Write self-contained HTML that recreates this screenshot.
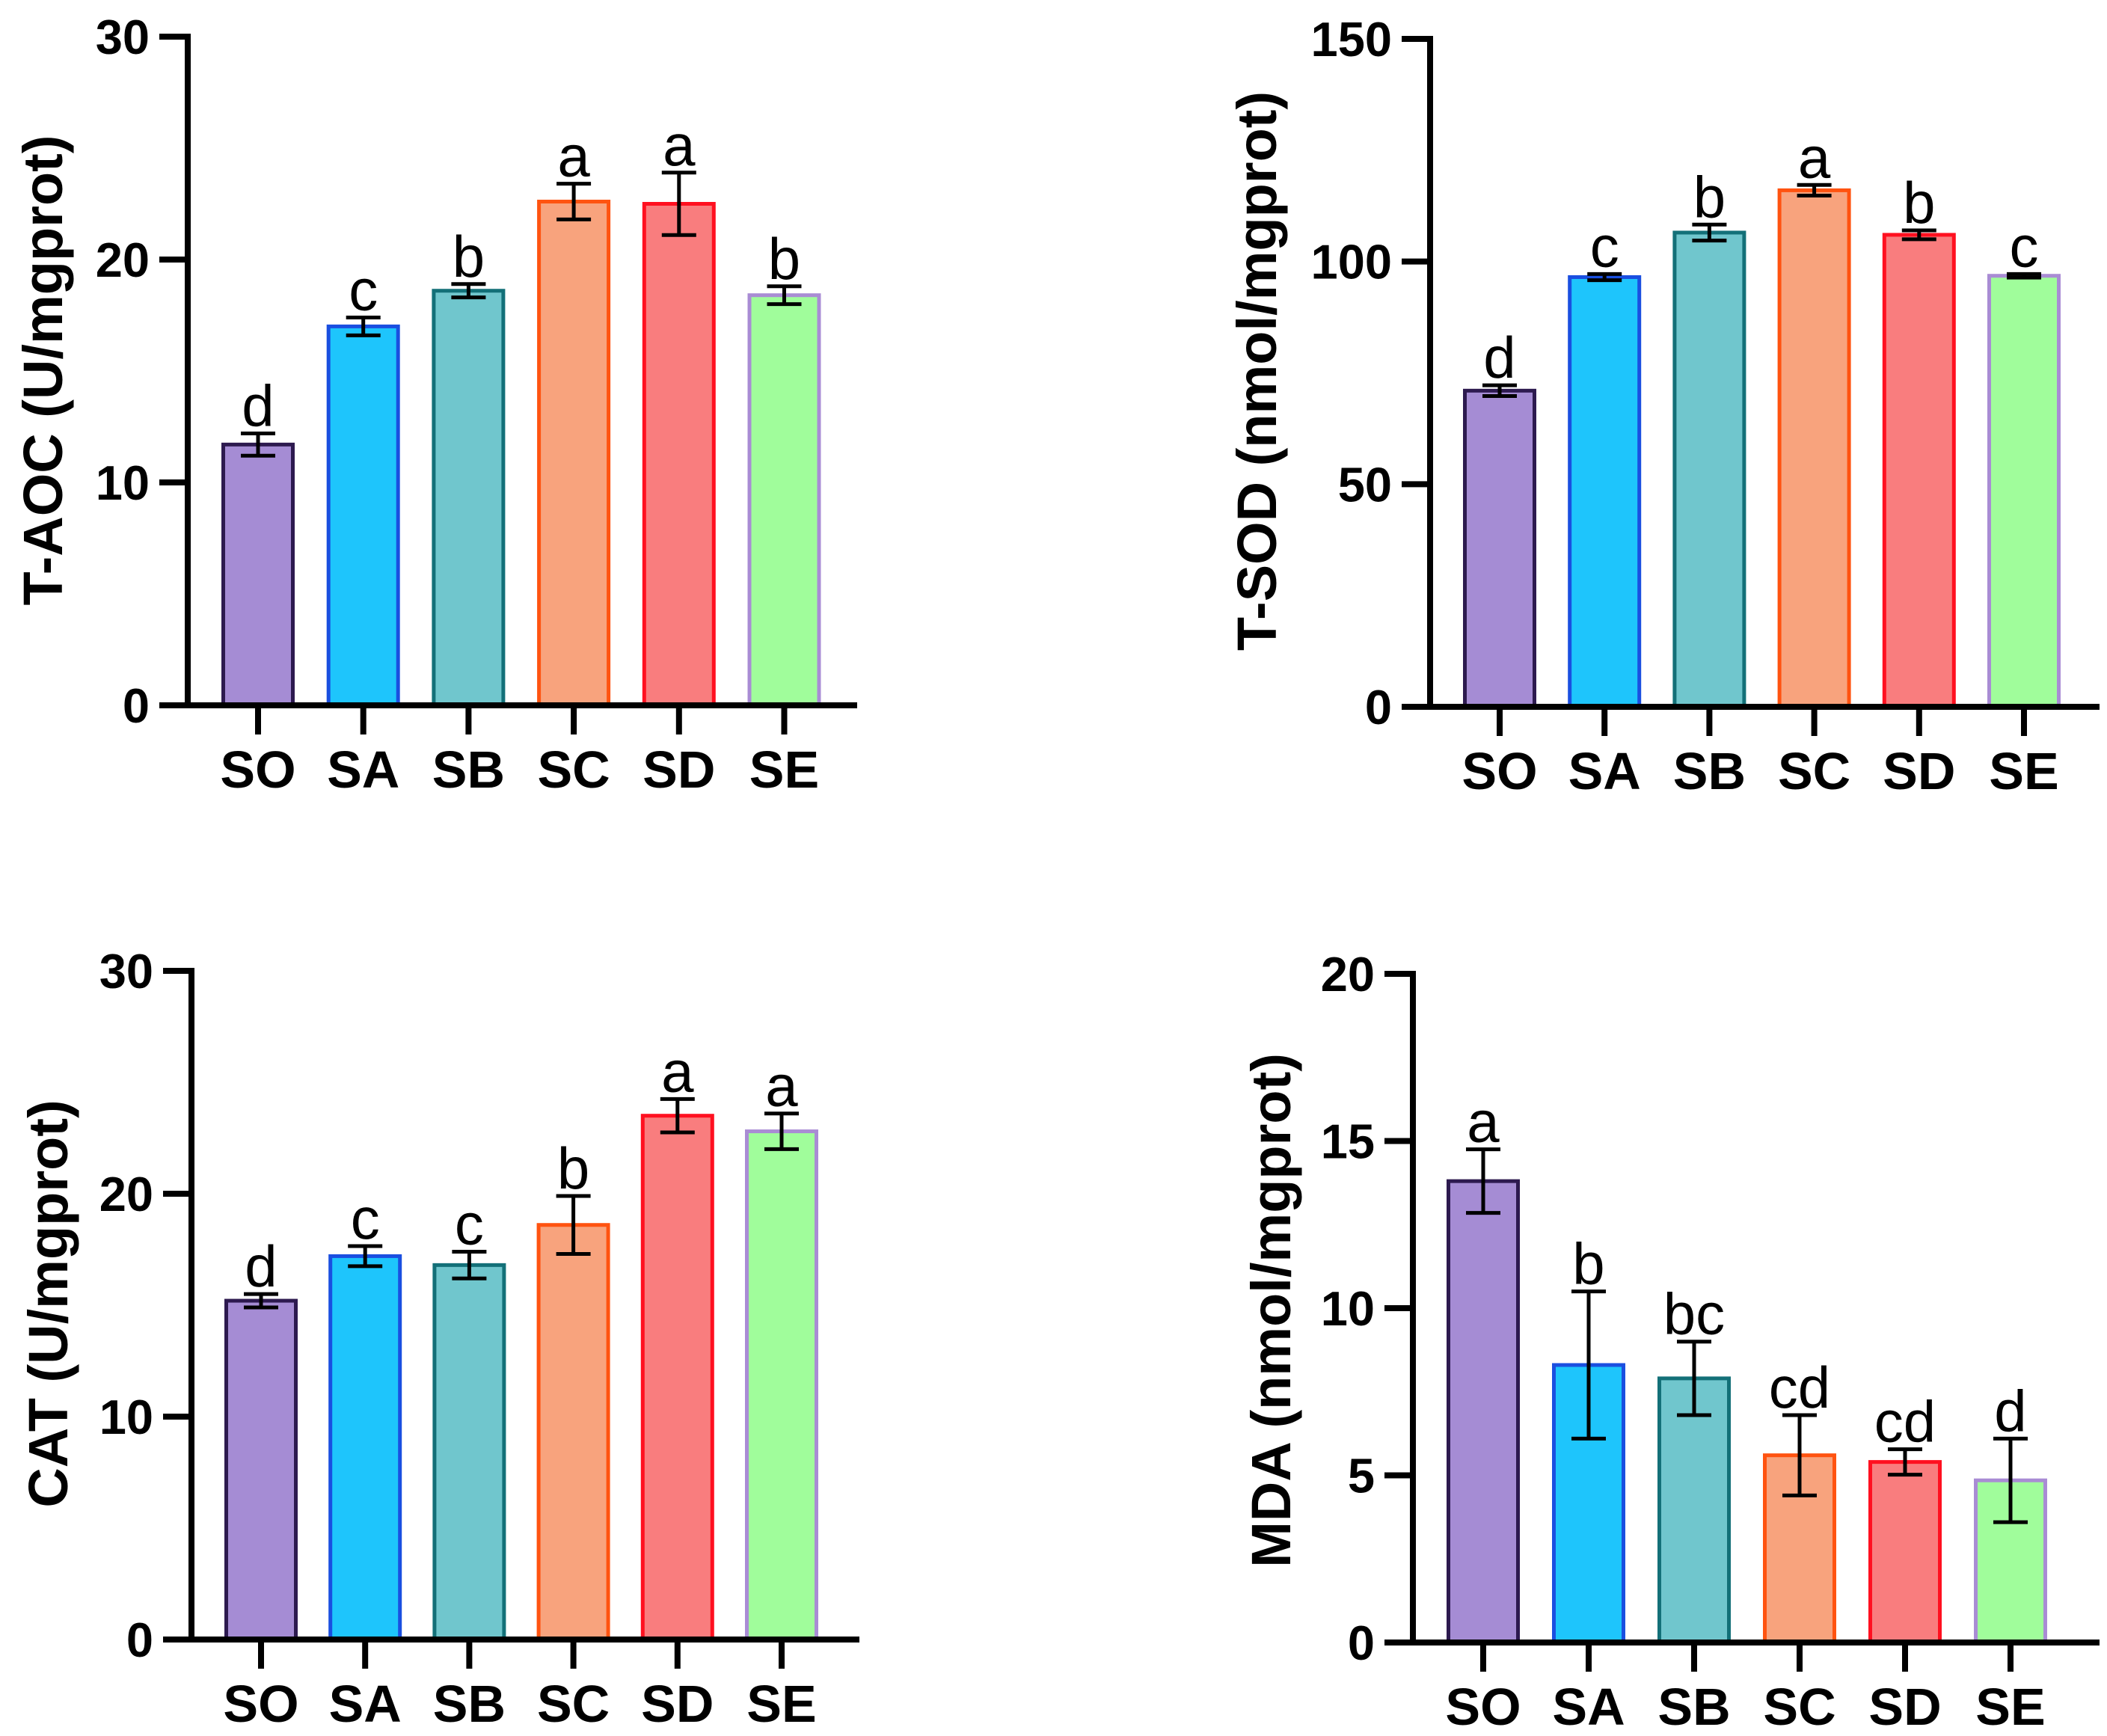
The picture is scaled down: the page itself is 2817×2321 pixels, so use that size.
<!DOCTYPE html>
<html><head><meta charset="utf-8">
<style>
html,body{margin:0;padding:0;background:#fff;}
svg{display:block;}
text{font-family:"Liberation Sans",Arial,sans-serif;}
</style></head>
<body>
<svg id="fig" width="2817" height="2321" viewBox="0 0 2817 2321" xmlns="http://www.w3.org/2000/svg">
<rect width="2817" height="2321" fill="#fff"/>
</svg>
<script>
const categories = ["SO","SA","SB","SC","SD","SE"];
const taocValues = [11.7, 17.0, 18.6, 22.6, 22.5, 18.4];
const taocErrors = [0.5, 0.4, 0.3, 0.8, 1.4, 0.4];
const taocLetters = ["d","c","b","a","a","b"];
const taocTicks = [0, 10, 20, 30];
const tsodValues = [71.0, 96.5, 106.5, 116.0, 106.0, 96.8];
const tsodErrors = [1.2, 0.7, 1.8, 1.2, 1.0, 0.4];
const tsodLetters = ["d","c","b","a","b","c"];
const tsodTicks = [0, 50, 100, 150];
const catValues = [15.2, 17.2, 16.8, 18.6, 23.5, 22.8];
const catErrors = [0.3, 0.45, 0.6, 1.3, 0.75, 0.8];
const catLetters = ["d","c","c","b","a","a"];
const catTicks = [0, 10, 20, 30];
const mdaValues = [13.8, 8.3, 7.9, 5.6, 5.4, 4.85];
const mdaErrors = [0.95, 2.2, 1.1, 1.2, 0.38, 1.25];
const mdaLetters = ["a","b","bc","cd","cd","d"];
const mdaTicks = [0, 5, 10, 15, 20];

const fills = ["#a58cd4","#1ec5fc","#70c6cd","#f8a37d","#f97d7e","#a0fd9b"];
const strokes = ["#2d1a4f","#1a4fe0","#137078","#ff5310","#ff1020","#a98cd4"];

const NS = "http://www.w3.org/2000/svg";
const svg = document.getElementById("fig");
function mk(tag, attrs, parent){
  const e = document.createElementNS(NS, tag);
  for (const k in attrs) e.setAttribute(k, attrs[k]);
  parent.appendChild(e);
  return e;
}

function drawChart(cfg){
  const g = mk("g", {}, svg);
  
  
  const ymax = cfg.ticks[cfg.ticks.length-1];
  const yScale = v => cfg.zero - (cfg.zero - cfg.top) * v / ymax;
  const xScale = i => cfg.axisX + cfg.first + i * cfg.step;
  const bw = 93;
  cfg.values.forEach((v, i) => {
    const y = yScale(v);
    const r = mk("rect", {x: xScale(i)-bw/2, y: y, width: bw, height: cfg.zero - y,
      fill: fills[i], stroke: strokes[i], "stroke-width": 5}, g);
    
    
  });
  cfg.values.forEach((v, i) => {
    const cx = xScale(i);
    const yt = yScale(v + cfg.errors[i]);
    const yb = yScale(v - cfg.errors[i]);
    const eb = mk("g", {stroke: "#000", "stroke-width": 5, fill: "none"}, g);
    
    
    mk("line", {x1: cx, x2: cx, y1: yt, y2: yb}, eb);
    mk("line", {x1: cx-23, x2: cx+23, y1: yt, y2: yt}, eb);
    mk("line", {x1: cx-23, x2: cx+23, y1: yb, y2: yb}, eb);
    const t = mk("text", {x: cx, y: yt - 10, "text-anchor": "middle", "font-size": 78, fill: "#000"}, g);
    t.textContent = cfg.letters[i];
    
    
  });
  const ax = mk("g", {stroke: "#000", "stroke-width": 8, fill: "none", "stroke-linecap": "butt"}, g);
  
  
  mk("line", {x1: cfg.axisX, x2: cfg.axisX, y1: cfg.top - 4, y2: cfg.zero + 4}, ax);
  mk("line", {x1: cfg.axisX - 38, x2: cfg.xEnd, y1: cfg.zero, y2: cfg.zero}, ax);
  cfg.ticks.forEach(tv => {
    const y = yScale(tv);
    mk("line", {x1: cfg.axisX - 38, x2: cfg.axisX, y1: y, y2: y}, ax);
    const t = mk("text", {x: cfg.axisX - 51, y: y + 23, "text-anchor": "end", "font-size": 65, "font-weight": "bold", fill: "#000"}, g);
    t.textContent = tv;
    
    
  });
  categories.forEach((c, i) => {
    const x = xScale(i);
    mk("line", {x1: x, x2: x, y1: cfg.zero, y2: cfg.zero + 39}, ax);
    const t = mk("text", {x: x, y: cfg.zero + 110, "text-anchor": "middle", "font-size": 70, "font-weight": "bold", fill: "#000"}, g);
    t.textContent = c;
    
    
  });
  const tt = mk("text", {x: 0, y: 0, "text-anchor": "middle", "font-size": 74, "font-weight": "bold", fill: "#000",
    transform: "translate(" + cfg.titleX + "," + cfg.titleY + ") rotate(-90)"}, g);
  tt.textContent = cfg.title;
  
  
}

drawChart({name: "taoc-chart", values: taocValues, errors: taocErrors, letters: taocLetters, ticks: taocTicks,
  axisX: 251, top: 49, zero: 943, xEnd: 1146, first: 94, step: 140.7, title: "T-AOC (U/mgprot)", titleX: 83, titleY: 495});
drawChart({name: "tsod-chart", values: tsodValues, errors: tsodErrors, letters: tsodLetters, ticks: tsodTicks,
  axisX: 1912, top: 52, zero: 945, xEnd: 2807, first: 93, step: 140.2, title: "T-SOD (nmol/mgprot)", titleX: 1706, titleY: 496});
drawChart({name: "cat-chart", values: catValues, errors: catErrors, letters: catLetters, ticks: catTicks,
  axisX: 256, top: 1298, zero: 2192, xEnd: 1149, first: 93, step: 139.2, title: "CAT (U/mgprot)", titleX: 90, titleY: 1743});
drawChart({name: "mda-chart", values: mdaValues, errors: mdaErrors, letters: mdaLetters, ticks: mdaTicks,
  axisX: 1889, top: 1302, zero: 2196, xEnd: 2807, first: 94, step: 141, title: "MDA (nmol/mgprot)", titleX: 1725, titleY: 1752});
</script>
</body></html>
